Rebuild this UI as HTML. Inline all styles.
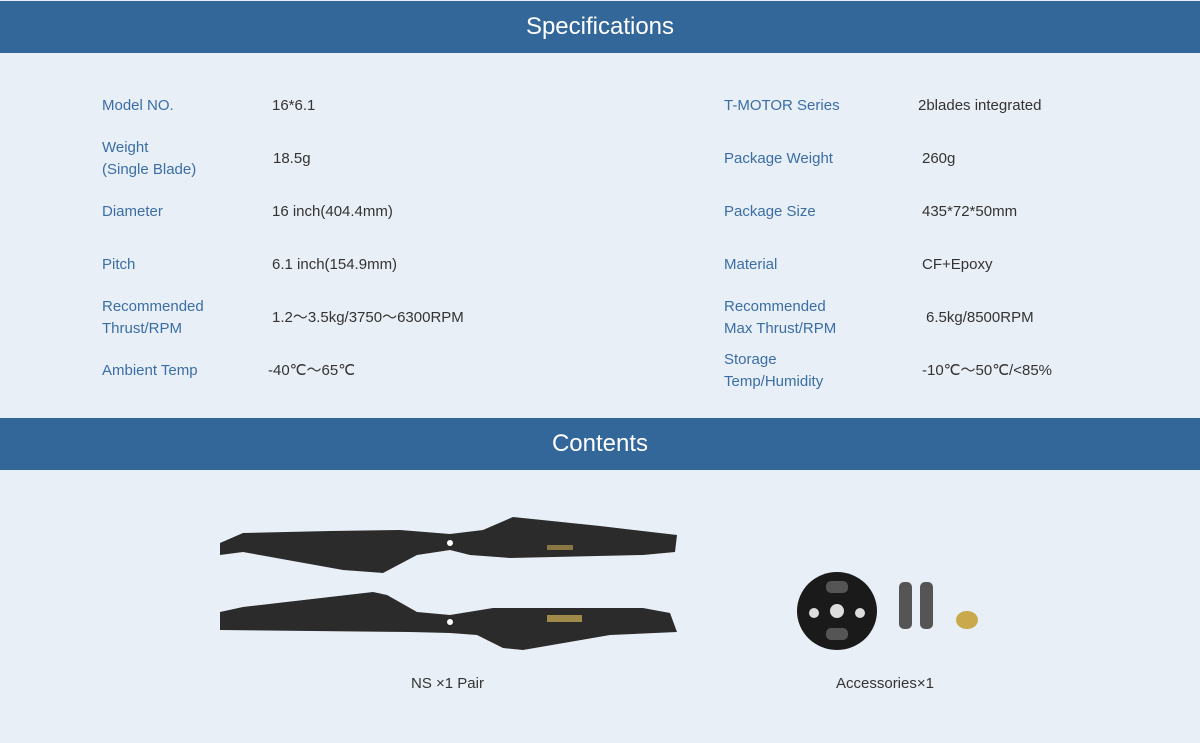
<!DOCTYPE html>
<html><head><meta charset="utf-8"><style>
html,body{margin:0;padding:0}
body{width:1200px;height:743px;background:#e9eff6;font-family:"Liberation Sans",sans-serif;position:relative;overflow:hidden}
.hdr{position:absolute;left:0;width:1200px;height:52px;background:#336699;color:#fff;font-size:24px;text-align:center;line-height:52px}
.t{position:absolute;font-size:15px;line-height:22px;white-space:nowrap}
.l{color:#3a6ea5}.v{color:#333}
</style></head><body>
<div class="hdr" style="top:1px">Specifications</div>
<div class="hdr" style="top:418px">Contents</div>

<div class="t l" style="left:102px;top:95px">Model NO.</div>
<div class="t v" style="left:272px;top:95px">16*6.1</div>
<div class="t l" style="left:102px;top:137px">Weight<br>(Single Blade)</div>
<div class="t v" style="left:273px;top:148px">18.5g</div>
<div class="t l" style="left:102px;top:201px">Diameter</div>
<div class="t v" style="left:272px;top:201px">16 inch(404.4mm)</div>
<div class="t l" style="left:102px;top:254px">Pitch</div>
<div class="t v" style="left:272px;top:254px">6.1 inch(154.9mm)</div>
<div class="t l" style="left:102px;top:296px">Recommended<br>Thrust/RPM</div>
<div class="t v" style="left:272px;top:307px">1.2～3.5kg/3750～6300RPM</div>
<div class="t l" style="left:102px;top:360px">Ambient Temp</div>
<div class="t v" style="left:268px;top:360px">-40℃～65℃</div>

<div class="t l" style="left:724px;top:95px">T-MOTOR Series</div>
<div class="t v" style="left:918px;top:95px">2blades integrated</div>
<div class="t l" style="left:724px;top:148px">Package Weight</div>
<div class="t v" style="left:922px;top:148px">260g</div>
<div class="t l" style="left:724px;top:201px">Package Size</div>
<div class="t v" style="left:922px;top:201px">435*72*50mm</div>
<div class="t l" style="left:724px;top:254px">Material</div>
<div class="t v" style="left:922px;top:254px">CF+Epoxy</div>
<div class="t l" style="left:724px;top:296px">Recommended<br>Max Thrust/RPM</div>
<div class="t v" style="left:926px;top:307px">6.5kg/8500RPM</div>
<div class="t l" style="left:724px;top:349px">Storage<br>Temp/Humidity</div>
<div class="t v" style="left:922px;top:360px">-10℃～50℃/&lt;85%</div>

<svg width="1200" height="743" style="position:absolute;left:0;top:0">
<path d="M220,543 L243,533 L330,531 L400,530 L450,534 L483,530 L513,517 L600,526 L677,535 L675,552 L643,555 L510,558 L470,555 L450,550 L417,555 L383,573 L343,570 L243,552 L220,555 Z" fill="#2b2b2b"/>
<path d="M220,612 L243,607 L373,592 L387,595 L417,612 L450,615 L493,608 L643,608 L670,613 L677,632 L610,635 L523,650 L503,648 L477,635 L450,633 L410,632 L220,630 Z" fill="#2b2b2b"/>
<circle cx="450" cy="543" r="3" fill="#fff"/><circle cx="450" cy="622" r="3" fill="#fff"/>
<rect x="547" y="615" width="35" height="7" fill="#a08a4a"/>
<rect x="547" y="545" width="26" height="5" fill="#8a7640"/>
<ellipse cx="837" cy="611" rx="40" ry="39" fill="#1a1a1a"/>
<circle cx="837" cy="611" r="7" fill="#ddd"/><circle cx="814" cy="613" r="5" fill="#ddd"/><circle cx="860" cy="613" r="5" fill="#ddd"/>
<rect x="826" y="581" width="22" height="12" rx="5" fill="#555"/><rect x="826" y="628" width="22" height="12" rx="5" fill="#555"/>
<rect x="899" y="582" width="13" height="47" rx="5" fill="#555"/>
<rect x="920" y="582" width="13" height="47" rx="5" fill="#555"/>
<ellipse cx="967" cy="620" rx="11" ry="9" fill="#c9a94c"/>
</svg>
<div class="t v" style="left:411px;top:673px">NS ×1 Pair</div>
<div class="t v" style="left:836px;top:673px">Accessories×1</div>
</body></html>
